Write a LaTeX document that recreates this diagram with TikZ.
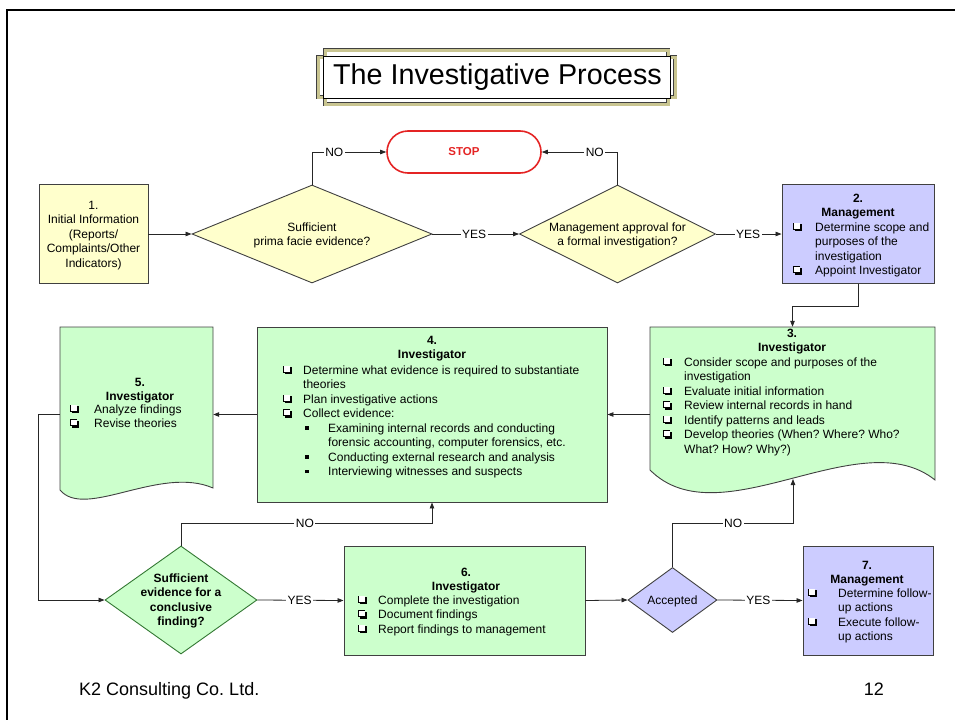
\documentclass[tikz,border=0pt]{standalone}
\usepackage{fontspec}
\setmainfont{Liberation Sans}
\usetikzlibrary{shapes.geometric,arrows.meta,calc}
\definecolor{ylw}{HTML}{FFFFCC}
\definecolor{lav}{HTML}{CCCCFF}
\definecolor{grn}{HTML}{CCFFCC}
\definecolor{khaki}{HTML}{C9C591}
\definecolor{stopred}{HTML}{E42424}
\definecolor{edge}{HTML}{404040}
\frenchspacing
\newlength\cbw
\newcommand\nl{\hfil\break}
\newcommand\cbox{\makebox[9pt][l]{\rlap{\hspace{1.5pt}\rule{7pt}{7pt}}\rlap{\rule[1.5pt]{7pt}{7pt}}\rlap{\hspace{0.7pt}\textcolor{white}{\rule[2.2pt]{5.6pt}{5.6pt}}}}}
\newcommand\itm[1]{\par\hangindent=\cbw\hangafter=1\noindent\makebox[\cbw][l]{\cbox}#1}
\newcommand\sitm[1]{\par\hangindent=45pt\hangafter=1\noindent\hspace*{22pt}\makebox[23pt][l]{\rule[2.5pt]{3.5pt}{3.5pt}}#1}
\begin{document}
\begin{tikzpicture}[x=1pt,y=-1pt,
  every node/.style={inner sep=0pt},
  txt/.style={font=\fontsize{12}{14.5}\selectfont},
  ybox/.style={draw=edge, line width=0.9pt, fill=ylw},
  lbox/.style={draw=edge, line width=0.9pt, fill=lav},
  gbox/.style={draw=edge, line width=0.9pt, fill=grn},
  ydia/.style={diamond, draw=edge, line width=0.9pt, fill=ylw},
  conn/.style={draw=black!85, line width=0.8pt, -{Triangle[length=6pt,width=4.5pt]}},
  lab/.style={fill=white, inner sep=1.5pt, font=\fontsize{12}{14}\selectfont}]
\path[use as bounding box] (0,0) rectangle (961,720);
% slide frame
\draw[line width=2.5pt] (7,720) -- (7,10) -- (955,10);

% title frame
\draw[draw=black!75, line width=0.6pt, double=khaki, double distance=3pt]
  (325,50) -- (668,50) -- (668,57) -- (675,57) -- (675,97) -- (668,97) -- (668,104)
  -- (325,104) -- (325,97) -- (318,97) -- (318,57) -- (325,57) -- cycle;
\draw[black, line width=0.6pt, fill=white] (323,56) rectangle (670,98);
\node[anchor=base, font=\fontsize{28.7}{34}\selectfont] (title) at (497.5,84) {The Investigative Process};

% STOP
\node[draw=stopred, line width=1.6pt, rounded corners=21pt, minimum width=154pt, minimum height=42pt,
      font=\bfseries\fontsize{11.5}{13}\selectfont, text=stopred] (stop) at (464,152) {STOP};

% box 1
\node[ybox, minimum width=109pt, minimum height=99pt] (b1) at (93.5,234) {};
\node[txt, anchor=base] (t1) at (93.5,209) {\parbox[t]{108pt}{\centering 1.\\Initial Information\\(Reports/\\Complaints/Other\\Indicators)}};

% diamond 1
\node[ydia, minimum width=240pt, minimum height=98pt] (d1) at (312,234) {};
\node[txt, anchor=base] (t1d) at (312,231) {\parbox[t]{200pt}{\centering Sufficient\\prima facie evidence?}};

% diamond 2
\node[ydia, minimum width=196pt, minimum height=98pt] (d2) at (617.5,234) {};
\node[txt, anchor=base] (t2d) at (617.5,231) {\parbox[t]{180pt}{\centering Management approval for\\a formal investigation?}};

% box 2
\node[lbox, minimum width=152pt, minimum height=99pt] (b2) at (858,234) {};
\node[txt, anchor=base] (h2) at (858,202) {\parbox[t]{150pt}{\centering\bfseries 2.\\Management}};
\node[txt, anchor=base west] (l2) at (793,231) {\parbox[t]{140pt}{\raggedright\setlength\cbw{22pt}%
  \itm{Determine scope and\nl purposes of the\nl investigation}
  \itm{Appoint Investigator}}};

% box 3 (document)
\path[fill=grn, draw=edge, line width=0.9pt] (650,327) -- (935,327) -- (935,480)
  .. controls (860,420) and (720,540) .. (650,470) -- cycle;
\node[minimum width=285pt, minimum height=153pt] (b3) at (792.5,403.5) {};
\node[txt, anchor=base] (h3) at (792,337) {\parbox[t]{200pt}{\centering\bfseries 3.\\Investigator}};
\node[txt, anchor=base west] (l3) at (663,366) {\parbox[t]{265pt}{\raggedright\setlength\cbw{21pt}%
  \itm{Consider scope and purposes of the\nl investigation}
  \itm{Evaluate initial information}
  \itm{Review internal records in hand}
  \itm{Identify patterns and leads}
  \itm{Develop theories (When? Where? Who?\nl What? How? Why?)}}};

% box 4
\node[gbox, minimum width=350pt, minimum height=175pt] (b4) at (432,414.5) {};
\node[txt, anchor=base] (h4) at (432,344) {\parbox[t]{200pt}{\centering\bfseries 4.\\Investigator}};
\node[txt, anchor=base west] (l4) at (283,374) {\parbox[t]{320pt}{\raggedright\setlength\cbw{20pt}%
  \itm{Determine what evidence is required to substantiate\nl theories}
  \itm{Plan investigative actions}
  \itm{Collect evidence:}
  \sitm{Examining internal records and conducting\nl forensic accounting, computer forensics, etc.}
  \sitm{Conducting external research and analysis}
  \sitm{Interviewing witnesses and suspects}}};

% box 5 (document)
\path[fill=grn, draw=edge, line width=0.9pt] (60,327) -- (213,327) -- (213,488)
  .. controls (160,465) and (85,520) .. (60,490) -- cycle;
\node[minimum width=153pt, minimum height=163pt] (b5) at (136.5,408.5) {};
\node[txt, anchor=base] (h5) at (140,386) {\parbox[t]{140pt}{\centering\bfseries 5.\\Investigator}};
\node[txt, anchor=base west] (l5) at (70,413) {\parbox[t]{140pt}{\raggedright\setlength\cbw{24pt}%
  \itm{Analyze findings}
  \itm{Revise theories}}};

% diamond 3
\node[diamond, draw=black!55!green!60!gray, line width=0.9pt, fill=grn, minimum width=152pt, minimum height=108pt] (d3) at (181,600) {};
\node[txt, anchor=base] (t3d) at (181,582) {\parbox[t]{120pt}{\centering\bfseries Sufficient\\evidence for a\\conclusive\\finding?}};

% box 6
\node[gbox, minimum width=241pt, minimum height=109pt] (b6) at (464.5,600.5) {};
\node[txt, anchor=base] (h6) at (466,576) {\parbox[t]{200pt}{\centering\bfseries 6.\\Investigator}};
\node[txt, anchor=base west] (l6) at (358,604) {\parbox[t]{220pt}{\raggedright\setlength\cbw{20pt}%
  \itm{Complete the investigation}
  \itm{Document findings}
  \itm{Report findings to management}}};

% accepted
\node[diamond, draw=edge, line width=0.9pt, fill=lav, minimum width=89pt, minimum height=65pt] (acc) at (672.5,600) {};
\node[txt, anchor=base] (tacc) at (672.5,604) {Accepted};

% box 7
\node[lbox, minimum width=130pt, minimum height=109pt] (b7) at (868,600.5) {};
\node[txt, anchor=base] (h7) at (867,569) {\parbox[t]{120pt}{\centering\bfseries 7.\\Management}};
\node[txt, anchor=base west] (l7) at (808,597) {\parbox[t]{124pt}{\raggedright\setlength\cbw{30pt}%
  \itm{Determine follow-\nl up actions}
  \itm{Execute follow-\nl up actions}}};

% connectors
\draw[conn] (b1.east) -- (d1.west);
\draw[conn] (d1.north) |- node[lab,pos=0.65]{NO} (stop.west);
\draw[conn] (d2.north) |- node[lab,pos=0.65]{NO} (stop.east);
\draw[conn] (d1.east) -- node[lab,pos=0.48]{YES} (d2.west);
\draw[conn] (d2.east) -- node[lab,pos=0.49]{YES} (b2.west);
\coordinate (c23) at (792.5,306);
\draw[conn] (b2.south) |- (c23) -- (b3.north);
\draw[conn] (b3.west |- b4.east) -- (b4.east);
\draw[conn] (b4.west) -- (b5.east |- b4.west);
\coordinate (c5) at (38,414.5);
\draw[conn] (b5.west |- b4.west) -- (c5) |- (d3.west);
\coordinate (c34) at (432,523);
\draw[conn] (d3.north) |- node[lab,pos=0.747]{NO} (c34) -- (b4.south);
\draw[conn] (d3.east) -- node[lab,pos=0.49]{YES} (b6.west);
\draw[conn] (b6.east) -- (acc.west);
\coordinate (cacc) at (793,523);
\coordinate (b3bot) at (793,479);
\draw[conn] (acc.north) |- node[lab,pos=0.752]{NO} (cacc) -- (b3bot);
\draw[conn] (acc.east) -- node[lab,pos=0.48]{YES} (b7.west);

% footer
\node[anchor=base west, font=\fontsize{18}{20}\selectfont] (foot) at (79,695) {K2 Consulting Co. Ltd.};
\node[anchor=base east, font=\fontsize{18}{20}\selectfont] (page) at (884,695) {12};
\end{tikzpicture}
\end{document}
